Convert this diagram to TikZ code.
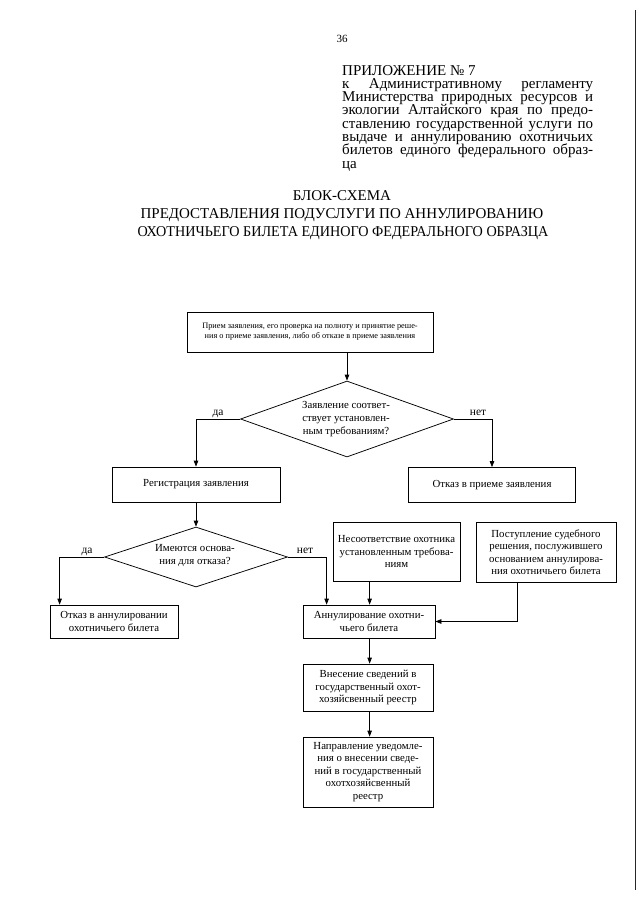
\documentclass[tikz,border=0pt]{standalone}
\usepackage{fontspec}
\setmainfont{Liberation Serif}
\usetikzlibrary{shapes.geometric,calc,arrows.meta}
\begin{document}
\begin{tikzpicture}[x=1pt,y=-1pt,
  box/.style={draw, line width=0.75pt, inner sep=0pt, align=center, font=\fontsize{10.8}{12.5}\selectfont},
  dia/.style={draw, diamond, line width=0.75pt, inner sep=0pt},
  dtext/.style={align=center, font=\fontsize{10.8}{13}\selectfont, inner sep=0pt},
  lab/.style={font=\fontsize{11.5}{12}\selectfont, inner sep=0pt, anchor=base},
  arr/.style={line width=0.75pt, -{Triangle[length=6pt,width=4.5pt]}},
  hdr/.style={font=\fontsize{15}{13.3}\selectfont, inner sep=0pt, anchor=base west},
  ttl/.style={font=\fontsize{15}{18}\selectfont, inner sep=0pt, anchor=base}
]
\useasboundingbox (0,0) rectangle (640,905);
\fill[white] (0,0) rectangle (640,905);

% page number
\node[font=\fontsize{11}{12}\selectfont, inner sep=0pt, anchor=base] (pg) at (342,42) {36};

% header
\node[hdr] (h1) at (342,75) {ПРИЛОЖЕНИЕ № 7};
\node[hdr] (h2) at (342,88.3) {\makebox[251pt][s]{к Административному регламенту}};
\node[hdr] (h3) at (342,101.6) {\makebox[251pt][s]{Министерства природных ресурсов и}};
\node[hdr] (h4) at (342,114.9) {\makebox[251pt][s]{экологии Алтайского края по предо-}};
\node[hdr] (h5) at (342,128.2) {\makebox[251pt][s]{ставлению государственной услуги по}};
\node[hdr] (h6) at (342,141.5) {\makebox[251pt][s]{выдаче и аннулированию охотничьих}};
\node[hdr] (h7) at (342,154.8) {\makebox[251pt][s]{билетов единого федерального образ-}};
\node[hdr] (h8) at (342,168.1) {ца};

% title
\node[ttl] (t1) at (342,200) {БЛОК-СХЕМА};
\node[ttl] (t2) at (342,218) {ПРЕДОСТАВЛЕНИЯ ПОДУСЛУГИ ПО АННУЛИРОВАНИЮ};
\node[ttl] (t3) at (343,236) {\scalebox{0.945}[1]{ОХОТНИЧЬЕГО БИЛЕТА ЕДИНОГО ФЕДЕРАЛЬНОГО ОБРАЗЦА}};

% boxes
\node[box, minimum width=246pt, minimum height=40pt, font=\fontsize{8.3}{10}\selectfont] (b1) at (310,332)
  {Прием заявления, его проверка на полноту и принятие реше-\\ния о приеме заявления, либо об отказе в приеме заявления};
\node[dia, minimum width=213pt, minimum height=76pt] (d1) at (347,419) {};
\node[dtext] (d1t) at (346,419) {Заявление соответ-\\ствует установлен-\\ным требованиям?};
\node[box, minimum width=168pt, minimum height=35pt] (reg) at (196,484.5) {Регистрация заявления};
\node[box, minimum width=167pt, minimum height=35pt] (otk) at (492,485) {Отказ в приеме заявления};
\node[dia, minimum width=183pt, minimum height=60pt] (d2) at (196,557) {};
\node[dtext] (d2t) at (195,556) {Имеются основа-\\ния для отказа?};
\node[box, minimum width=128pt, minimum height=33pt] (ota) at (114,621.5) {Отказ в аннулировании\\охотничьего билета};
\node[box, minimum width=127pt, minimum height=59pt] (nes) at (396.5,551.5) {Несоответствие охотника\\установленным требова-\\ниям};
\node[box, minimum width=140pt, minimum height=60pt] (pos) at (546,552) {Поступление судебного\\решения, послужившего\\основанием аннулирова-\\ния охотничьего билета};
\node[box, minimum width=132pt, minimum height=33pt] (ann) at (369,621.5) {Аннулирование охотни-\\чьего билета};
\node[box, minimum width=130pt, minimum height=47pt] (vn) at (368,687.5) {Внесение сведений в\\государственный охот-\\хозяйсвенный реестр};
\node[box, minimum width=130pt, minimum height=70pt] (nap) at (368,772) {Направление уведомле-\\ния о внесении сведе-\\ний в государственный\\охотхозяйсвенный\\реестр};

% connectors
\draw[arr] (b1.south -| d1.north) -- (d1.north);
\draw[arr] (d1.west) -| (reg.north);
\draw[arr] (d1.east) -| (otk.north);
\draw[arr] (reg.south) -- (d2.north);
\draw[arr] (d2.west) -| ($(ota.north west)+(10,0)$);
\draw[arr] (d2.east) -| ($(ann.north west)+(24,0)$);
\draw[arr] ($(nes.south west)+(37,0)$) -- ($(ann.north west)+(67,0)$);
\draw[arr] ($(pos.south west)+(42,0)$) |- (ann.east);
\draw[arr] ($(ann.south west)+(67,0)$) -- ($(vn.north west)+(67,0)$);
\draw[arr] ($(vn.south west)+(67,0)$) -- ($(nap.north west)+(67,0)$);

% branch labels
\node[lab] (l1) at (218,415) {да};
\node[lab] (l2) at (478,415) {нет};
\node[lab] (l3) at (87,553) {да};
\node[lab] (l4) at (305,553) {нет};

% scan edge
\draw[line width=0.9pt, black!85] (635,10) -- (635,890);
\end{tikzpicture}
\end{document}
